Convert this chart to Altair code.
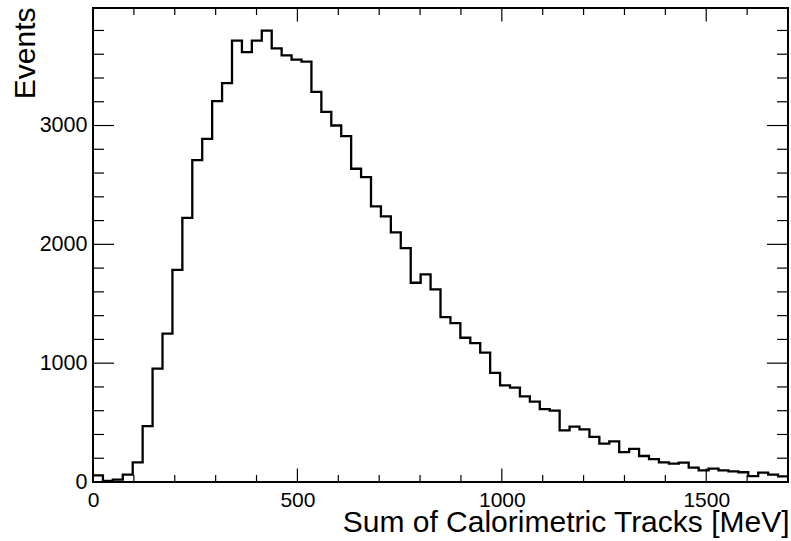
import altair as alt
import pandas as pd

# ---- data -------------------------------------------------------------
x_min = 0
x_max = 1700
n_bins = 70
counts = [55, 10, 20, 62, 165, 470, 954, 1248, 1786, 2222,
          2708, 2888, 3205, 3356, 3715, 3617, 3715, 3799, 3650, 3590,
          3555, 3538, 3283, 3115, 3000, 2910, 2636, 2565, 2319, 2235,
          2100, 1968, 1677, 1747, 1621, 1388, 1337, 1214, 1169, 1088,
          918, 813, 794, 721, 676, 614, 600, 435, 466, 443,
          380, 323, 342, 252, 278, 219, 193, 166, 155, 163,
          121, 98, 113, 98, 90, 82, 50, 79, 62, 48]
y_max = 3989

x_major = [0, 500, 1000, 1500]
x_minor = [100, 200, 300, 400, 600, 700, 800, 900, 1100, 1200, 1300, 1400, 1600]
y_major = [0, 1000, 2000, 3000]
y_minor = [200, 400, 600, 800, 1200, 1400, 1600, 1800, 2200, 2400, 2600, 2800,
           3200, 3400, 3600, 3800]

x_title = "Sum of Calorimetric Tracks [MeV]"
y_title = "Events"

# ---- layout -----------------------------------------------------------
W, H = 695, 474
FONT = "Liberation Sans"

bw = (x_max - x_min) / n_bins
edges = [x_min + i * bw for i in range(n_bins + 1)]
hist = pd.DataFrame({"x": edges, "y": counts + [counts[-1]]})

xscale = alt.Scale(domain=[x_min, x_max], nice=False, zero=False)
yscale = alt.Scale(domain=[0, y_max], nice=False, zero=False)

x_axis = alt.Axis(
    values=x_major, ticks=False, domain=False, grid=False,
    labelFont=FONT, labelFontSize=21, labelColor="black",
    labelPadding=7, labelFlush=False, labelOverlap=False, format="d",
    title=x_title, titleFont=FONT, titleFontSize=30,
    titleFontWeight="normal", titleColor="black",
    titleAlign="right", titleBaseline="alphabetic",
    titleX=W + 1, titleY=49)
y_axis = alt.Axis(
    values=y_major, ticks=False, domain=False, grid=False,
    labelFont=FONT, labelFontSize=21.5, labelColor="black",
    labelPadding=6, labelOverlap=False, format="d",
    title=y_title, titleFont=FONT, titleFontSize=30,
    titleFontWeight="normal", titleColor="black", titleAngle=270,
    titleAlign="right", titleBaseline="alphabetic",
    titleX=-59, titleY=-1)

line = alt.Chart(hist).mark_line(
    interpolate="step-after", color="black", strokeWidth=2.3, clip=True
).encode(
    x=alt.X("x:Q", scale=xscale, axis=x_axis),
    y=alt.Y("y:Q", scale=yscale, axis=y_axis),
)


def xticks(vals, y0, y1):
    return alt.Chart(pd.DataFrame({"x": vals})).mark_rule(
        color="black", strokeWidth=1.2
    ).encode(x=alt.X("x:Q", scale=xscale, axis=x_axis),
             y=alt.value(y0), y2=alt.value(y1))


def yticks(vals, x0, x1):
    return alt.Chart(pd.DataFrame({"y": vals})).mark_rule(
        color="black", strokeWidth=1.2
    ).encode(y=alt.Y("y:Q", scale=yscale, axis=y_axis),
             x=alt.value(x0), x2=alt.value(x1))


layers = [
    line,
    xticks(x_major, H, H - 13.5), xticks(x_minor, H, H - 7),
    xticks(x_major, 0, 13.5), xticks(x_minor, 0, 7),
    yticks(y_major, 0, 21), yticks(y_minor, 0, 11),
    yticks(y_major, W, W - 21), yticks(y_minor, W, W - 11),
]

chart = alt.layer(*layers).properties(
    width=W, height=H,
    autosize=alt.AutoSizeParams(type="none"),
    padding={"left": 93, "top": 8, "right": 3, "bottom": 59},
    background="white",
).configure_view(stroke="black", strokeWidth=2)

chart.save("out.html", embed_options={"renderer": "svg", "actions": False})
